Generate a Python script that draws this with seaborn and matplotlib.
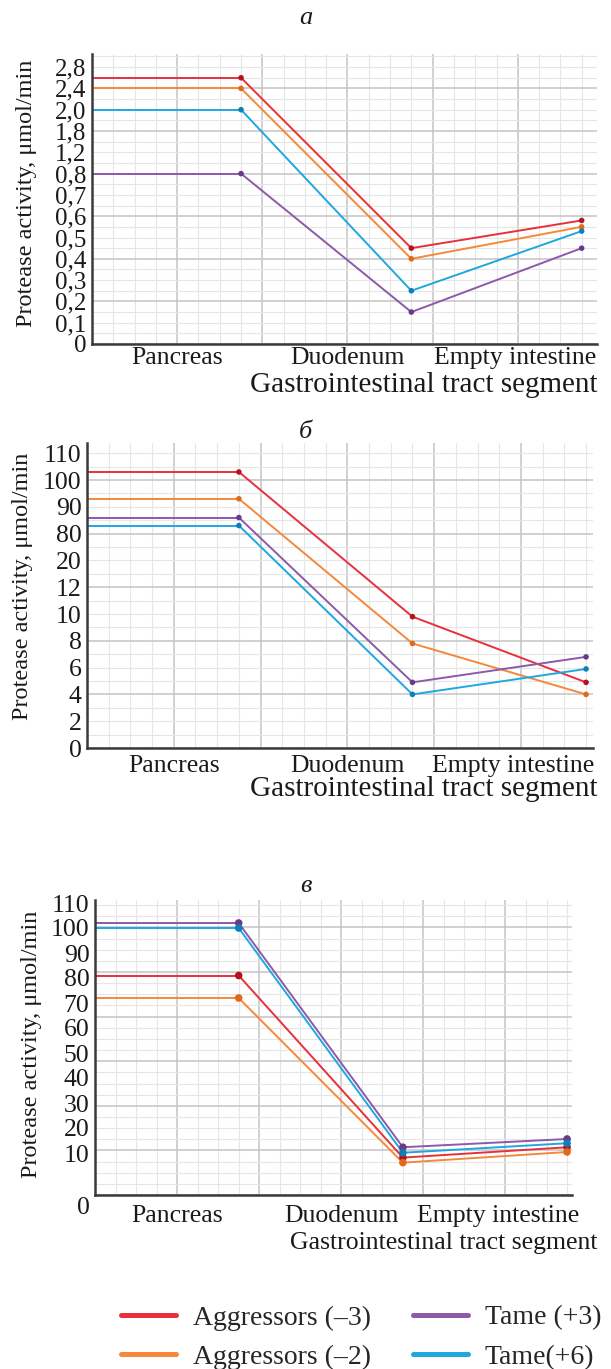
import numpy as np
import pandas as pd
import matplotlib
matplotlib.use("Agg")
import matplotlib.pyplot as plt
import seaborn as sns
from matplotlib.ticker import FixedLocator, FixedFormatter, NullFormatter
from matplotlib.lines import Line2D
import matplotlib.transforms as mtransforms

# ---------------- data ----------------
segments = ["Pancreas", "Duodenum", "Empty intestine"]
groups = ["Aggressors (–3)", "Aggressors (–2)", "Tame (+3)", "Tame(+6)"]
colors = ["#E8303A", "#F5883A", "#8C5AA8", "#1FA8E0"]
dot_colors = ["#B3131E", "#E06A1A", "#6A3A8A", "#0F7FB8"]

# panel a
a_ticks = [0, 0.1, 0.2, 0.3, 0.4, 0.5, 0.6, 0.7, 0.8, 1.2, 1.8, 2.0, 2.4, 2.8]
a_agg3 = [2.6, 0.45, 0.58]
a_agg2 = [2.4, 0.40, 0.55]
a_tame3 = [0.8, 0.15, 0.45]
a_tame6 = [2.0, 0.25, 0.53]

# panel b
b_ticks = [0, 2, 4, 6, 8, 10, 12, 20, 80, 90, 100, 110]
b_agg3 = [103, 9.8, 4.9]
b_agg2 = [93, 7.8, 4.0]
b_tame3 = [86, 4.9, 6.8]
b_tame6 = [83, 4.0, 5.9]

# panel c
c_ticks = [0, 10, 20, 30, 40, 50, 60, 70, 80, 90, 100, 110]
c_agg3 = [81, 8.9, 12.3]
c_agg2 = [72, 7.7, 10.4]
c_tame3 = [102, 12.3, 15.6]
c_tame6 = [100, 10.1, 13.9]

ylabel = "Protease activity, μmol/min"
xlabel = "Gastrointestinal tract segment"
titles = ["а", "б", "в"]

# ---------------- style ----------------
sns.set_theme(style="white")
plt.rcParams["font.family"] = ["Liberation Serif", "DejaVu Serif"]
plt.rcParams["axes.unicode_minus"] = False

W, H = 611, 1369
DPI = 100
fig = plt.figure(figsize=(W / DPI, H / DPI), dpi=DPI)
TXT = "#1a1a1a"


def make_scale(vals, pos):
    vals = np.asarray(vals, float)
    pos = np.asarray(pos, float)
    sh = (pos[-1] - pos[-2]) / (vals[-1] - vals[-2])
    sl = (pos[1] - pos[0]) / (vals[1] - vals[0])

    def fwd(v):
        v = np.asarray(v, float)
        out = np.interp(v, vals, pos)
        out = np.where(v > vals[-1], pos[-1] + (v - vals[-1]) * sh, out)
        out = np.where(v < vals[0], pos[0] + (v - vals[0]) * sl, out)
        return out

    def inv(p):
        p = np.asarray(p, float)
        out = np.interp(p, pos, vals)
        out = np.where(p > pos[-1], vals[-1] + (p - pos[-1]) / sh, out)
        out = np.where(p < pos[0], vals[0] + (p - pos[0]) / sl, out)
        return out

    return fwd, inv


def fmt(v, comma):
    if comma:
        return ("%.1f" % v).replace(".", ",") if v != 0 else "0"
    return "%g" % v


panels = [
    dict(ticks=a_ticks, series=[a_agg3, a_agg2, a_tame3, a_tame6],
         tick_pos=[i * 21.3 for i in range(len(a_ticks))],
         rect=(92, 597, 344, 54), xmax=2.09, comma=True, ytick_size=18,
         hminor=10.65, hmajor=42.6, xpad=2, title_y=18, xl_y=385,
         xl_size=21, ms=16, ylab=(-0.109, 0.52)),
    dict(ticks=b_ticks, series=[b_agg3, b_agg2, b_tame3, b_tame6],
         tick_pos=[i * 26.8 for i in range(len(b_ticks))],
         rect=(87, 593, 748, 443), xmax=2.04, comma=False, ytick_size=18.5,
         hminor=13.4, hmajor=53.6, xpad=5, title_y=432, xl_y=789,
         xl_size=21, ms=16, ylab=(-0.107, 0.53)),
    dict(ticks=c_ticks, series=[c_agg3, c_agg2, c_tame3, c_tame6],
         tick_pos=[0] + [42 + (v - 10) * 2.5 for v in c_ticks[1:]],
         rect=(95, 572, 1195, 900), xmax=2.03, comma=False, ytick_size=18.5,
         hminor=11.15, hmajor=44.6, xpad=7, title_y=886, xl_y=1243,
         xl_size=18.5, ms=30, ylab=(-0.111, 0.51)),
]

XMIN = -0.875

for k, p in enumerate(panels):
    l, r, b, t = p["rect"]
    rect = [l / W, 1 - b / H, (r - l) / W, (b - t) / H]
    top_px = b - t
    xlim = (XMIN, p["xmax"])

    # background grid axes (pixel units vertically)
    gax = fig.add_axes(rect, zorder=0)
    gax.set_xlim(*xlim)
    gax.set_ylim(0, top_px)
    gax.xaxis.set_major_locator(FixedLocator(np.arange(XMIN + 0.5, p["xmax"], 0.5)))
    gax.xaxis.set_minor_locator(FixedLocator(np.arange(XMIN, p["xmax"], 0.125)))
    gax.yaxis.set_major_locator(FixedLocator(np.arange(0, top_px, p["hmajor"])))
    gax.yaxis.set_minor_locator(FixedLocator(np.arange(0, top_px, p["hminor"])))
    gax.grid(which="major", color="#c4c4c4", lw=1.1)
    gax.grid(which="minor", color="#e6e6e6", lw=0.8)
    gax.tick_params(which="both", length=0, labelbottom=False, labelleft=False)
    for s in gax.spines.values():
        s.set_visible(False)

    ax = fig.add_axes(rect, zorder=1)
    ax.patch.set_alpha(0)
    fwd, inv = make_scale(p["ticks"], p["tick_pos"])
    ax.set_yscale("function", functions=(fwd, inv))

    rows = []
    for g, vals in zip(groups, p["series"]):
        for i, (s, v) in enumerate(zip(segments, vals)):
            rows.append(dict(group=g, segment=s, x=i, value=v))
    df = pd.DataFrame(rows)

    first = df[df["x"] == 0]
    ax.hlines(first["value"], XMIN, first["x"],
              colors=[colors[groups.index(g)] for g in first["group"]], lw=1.4, zorder=2)
    sns.lineplot(data=df, x="x", y="value", hue="group", hue_order=groups,
                 palette=colors, lw=1.4, legend=False, ax=ax, zorder=2)
    sns.scatterplot(data=df, x="x", y="value", hue="group", hue_order=groups,
                    palette=dot_colors, s=p["ms"], linewidth=0, legend=False,
                    ax=ax, zorder=3)

    ax.set_xlim(*xlim)
    ax.set_ylim(float(inv(0)), float(inv(top_px)))
    ax.yaxis.set_major_locator(FixedLocator(p["ticks"]))
    ax.yaxis.set_major_formatter(FixedFormatter([fmt(v, p["comma"]) for v in p["ticks"]]))
    ax.yaxis.set_minor_locator(FixedLocator([]))
    ax.tick_params(axis="y", length=0, pad=4, labelsize=p["ytick_size"], colors=TXT)

    bounds = [0.125, 1.125]
    edges = [XMIN] + bounds + [p["xmax"]]
    centers = [(edges[i] + edges[i + 1]) / 2 for i in range(3)]
    ax.xaxis.set_major_locator(FixedLocator(bounds))
    ax.xaxis.set_major_formatter(NullFormatter())
    ax.xaxis.set_minor_locator(FixedLocator(centers))
    ax.xaxis.set_minor_formatter(FixedFormatter(segments))
    ax.tick_params(axis="x", which="major", direction="in", length=6, width=1.6,
                   color="#111111")
    ax.tick_params(axis="x", which="minor", length=0, pad=p["xpad"], labelsize=18.5,
                   colors=TXT)
    ax.set_xlabel("")
    ax.set_ylabel(ylabel, fontsize=17.5, color=TXT)
    ax.yaxis.set_label_coords(*p["ylab"])

    for side in ["top", "right"]:
        ax.spines[side].set_visible(False)
    for side in ["left", "bottom"]:
        ax.spines[side].set_color("#3a3a3a")
        ax.spines[side].set_linewidth(1.8)

    if k == 2:
        lab0 = ax.get_yticklabels()[0]
        lab0.set_transform(lab0.get_transform() +
                           mtransforms.ScaledTranslation(0, -10 / DPI, fig.dpi_scale_trans))

    fig.text(0.5, 1 - p["title_y"] / H, titles[k], style="italic", fontsize=19,
             ha="center", va="center", color=TXT)
    fig.text(598 / W, 1 - p["xl_y"] / H, xlabel, fontsize=p["xl_size"], ha="right",
             va="center", color=TXT)

handles = [Line2D([], [], color=c, lw=3.6) for c in colors]
fig.legend(handles=handles, labels=groups, ncol=2, loc="center",
           bbox_to_anchor=(361 / W, 1 - 1337.5 / H), frameon=False, fontsize=20,
           handlelength=2.0, handletextpad=0.6, columnspacing=1.5, labelspacing=0.5)

fig.savefig("out.png", dpi=DPI)
